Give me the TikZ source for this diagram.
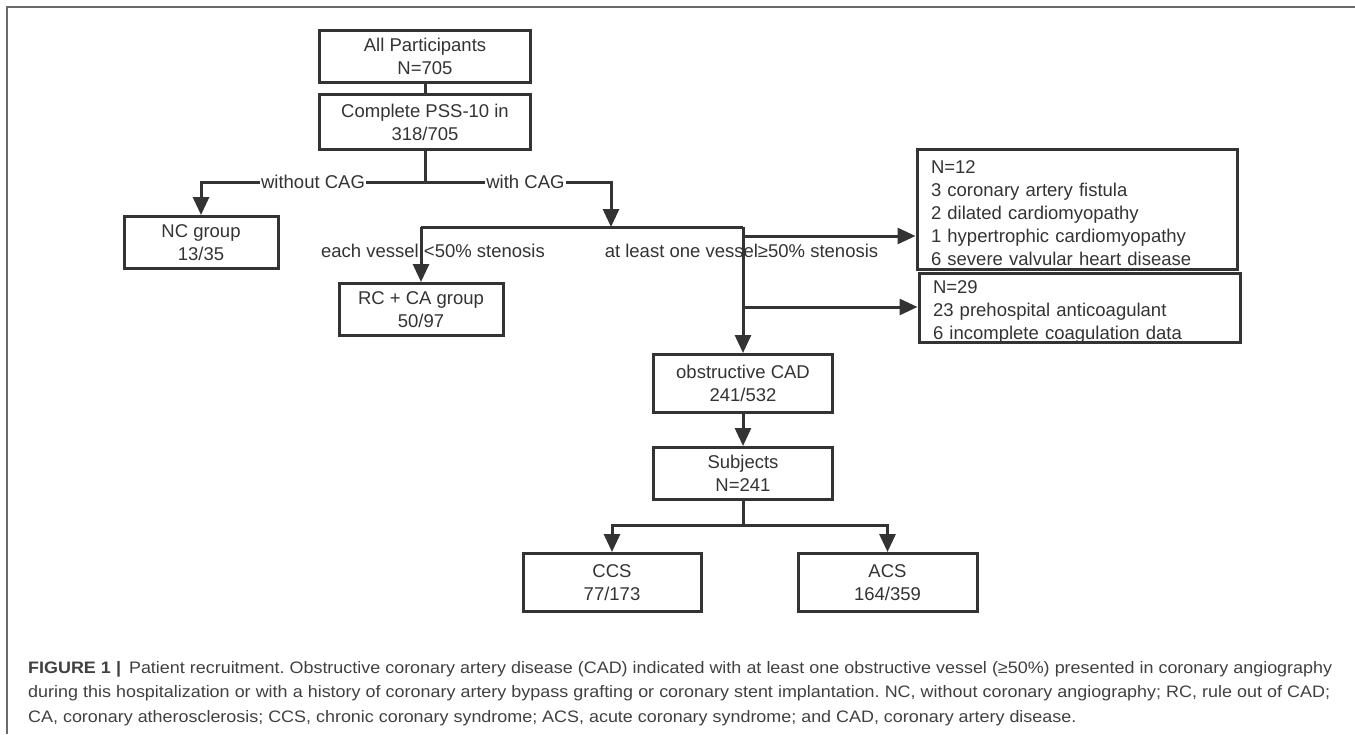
\documentclass[tikz,border=0pt]{standalone}
\usepackage{fontspec}
\setmainfont{Liberation Sans}
\newfontfamily\capfont[FakeStretch=1.08]{Liberation Sans}
\usetikzlibrary{arrows.meta}
\definecolor{ink}{HTML}{333333}
\definecolor{capink}{HTML}{404040}
\definecolor{rule}{HTML}{6A6A6A}
\frenchspacing

\begin{document}
\begin{tikzpicture}[x=1pt,y=-1pt,
    box/.style={draw=ink,line width=3pt,text=ink,inner sep=0pt,align=center,
      font=\fontsize{18.5}{23}\selectfont,execute at begin node={\rule{0pt}{20pt}}},
    listbox/.style={box,align=left,inner xsep=14pt,text width=#1},
    link/.style={draw=ink,line width=3pt},
    arr/.style={link,-{Triangle[length=18pt,width=16pt]}},
    lab/.style={text=ink,inner sep=1pt,font=\fontsize{18.5}{23}\selectfont},
    captext/.style={text=capink,inner sep=0pt,anchor=base west,
      font=\capfont\fontsize{16.6}{24.5}\selectfont}]

    \useasboundingbox (0,0) rectangle (1355,734);
    \path[draw=rule,line width=1.8pt] (7,734) -- (7,7) -- (1355,7);

    % boxes
    \node[box,minimum width=211pt,minimum height=52pt] (all) at (425,56) {All Participants\\N=705};
    \node[box,minimum width=211pt,minimum height=55pt] (pss) at (425,122) {Complete PSS-10 in\\318/705};
    \node[box,minimum width=154pt,minimum height=52pt] (nc) at (201,242.5) {NC group\\13/35};
    \node[box,minimum width=164pt,minimum height=52pt] (rc) at (421,309.5) {RC + CA group\\50/97};
    \node[box,minimum width=179pt,minimum height=58pt] (ocad) at (743,383.5) {obstructive CAD\\241/532};
    \node[box,minimum width=179pt,minimum height=52pt] (subj) at (743,473.5) {Subjects\\N=241};
    \node[box,minimum width=178pt,minimum height=58pt] (ccs) at (612,582.5) {CCS\\77/173};
    \node[box,minimum width=179pt,minimum height=58pt] (acs) at (887.5,582.5) {ACS\\164/359};
    \node[listbox=292pt,minimum height=120pt] (excl) at (1077,209.5)
      {N=12\\3 coronary artery fistula\\2 dilated cardiomyopathy\\1 hypertrophic cardiomyopathy\\6 severe valvular heart disease};
    \node[listbox=293pt,minimum height=69pt] (drop) at (1079.5,308)
      {N=29\\23 prehospital anticoagulant\\6 incomplete coagulation data};

    % connectors
    \coordinate (split) at (425,182);
    \coordinate (cag) at (611,227);
    \coordinate (lowturn) at (421,227);
    \coordinate (highturn) at (743,227);
    \coordinate (tapA) at (743,236);
    \coordinate (tapB) at (743,307);
    \coordinate (fork) at (743,525);

    \path[link] (all) -- (pss);
    \path[link] (pss) -- (split);
    \path[arr] (split) -| node[pos=0.25,lab,fill=white] (nolab) {without CAG} (nc);
    \path[arr] (split) -| node[pos=0.27,lab,fill=white] (cglab) {with CAG} (cag);
    \path[link] (lowturn) -- (highturn);
    \path[arr] (lowturn) -- (rc);
    \path[arr] (highturn) -- (ocad);
    \path[arr] (tapA) -- (tapA -| excl.west);
    \path[arr] (tapB) -- (tapB -| drop.west);
    \path[arr] (ocad) -- (subj);
    \path[link] (subj) -- (fork);
    \path[arr] (fork) -| (ccs);
    \path[arr] (fork) -| (acs);

    \node[lab] (lowlab) at (433,251) {each vessel <50\% stenosis};
    \node[lab] (highlab) at (741.5,251) {at least one vessel≥50\% stenosis};

    % caption
    \node[captext] (capA) at (28,673) {\makebox[1304pt][s]{\textbf{FIGURE 1 |}\hspace{8pt}Patient recruitment. Obstructive coronary artery disease (CAD) indicated with at least one obstructive vessel (≥50\%) presented in coronary angiography}};
    \node[captext] (capB) at (28,697.5) {\makebox[1302pt][s]{during this hospitalization or with a history of coronary artery bypass grafting or coronary stent implantation. NC, without coronary angiography; RC, rule out of CAD;}};
    \node[captext] (capC) at (28,722) {CA, coronary atherosclerosis; CCS, chronic coronary syndrome; ACS, acute coronary syndrome; and CAD, coronary artery disease.};
\end{tikzpicture}
\end{document}
